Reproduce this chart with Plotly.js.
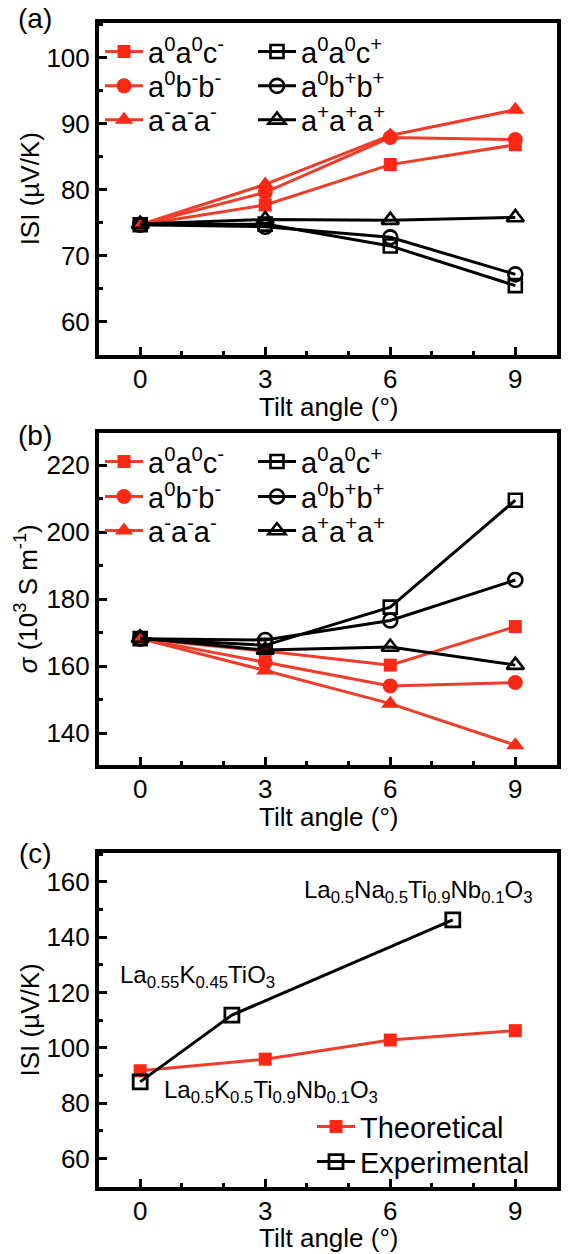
<!DOCTYPE html>
<html>
<head>
<meta charset="utf-8">
<script src="https://cdn.plot.ly/plotly-3.0.1.min.js"></script>
<style>html,body{margin:0;padding:0;background:#fff;}</style>
</head>
<body>
<div id="chart" style="width:568px;height:1254px;"></div>
<script>
// ---------- data ----------
const tiltAngles = [0, 3, 6, 9];

// (a) |S| (µV/K)
const seebeck_a0a0cm = [74.7, 77.7, 83.8, 86.8];
const seebeck_a0bmbm = [74.7, 79.6, 87.9, 87.6];
const seebeck_amamam = [74.7, 80.8, 88.2, 92.1];
const seebeck_a0a0cp = [74.7, 74.8, 71.5, 65.5];
const seebeck_a0bpbp = [74.7, 74.4, 72.8, 67.2];
const seebeck_apapap = [74.8, 75.5, 75.4, 75.8];

// (b) sigma (10^3 S/m)
const sigma_a0a0cm = [168.2, 164.5, 160.3, 171.8];
const sigma_a0bmbm = [168.2, 161.2, 154.1, 155.1];
const sigma_amamam = [168.2, 158.7, 148.8, 136.4];
const sigma_a0a0cp = [168.2, 166.2, 177.6, 209.5];
const sigma_a0bpbp = [168.2, 167.8, 173.6, 185.7];
const sigma_apapap = [168.4, 164.8, 165.7, 160.3];

// (c) theoretical vs experimental
const theoAngles = [0, 3, 6, 9];
const theoSeebeck = [91.7, 95.9, 102.8, 106.2];
const expAngles = [0, 2.2, 7.5];
const expSeebeck = [87.7, 111.8, 146.2];

const seriesNames = [
  'a<sup>0</sup>a<sup>0</sup>c<sup>-</sup>',
  'a<sup>0</sup>b<sup>-</sup>b<sup>-</sup>',
  'a<sup>-</sup>a<sup>-</sup>a<sup>-</sup>',
  'a<sup>0</sup>a<sup>0</sup>c<sup>+</sup>',
  'a<sup>0</sup>b<sup>+</sup>b<sup>+</sup>',
  'a<sup>+</sup>a<sup>+</sup>a<sup>+</sup>'
];
const expLabels = [
  'La<sub>0.5</sub>K<sub>0.5</sub>Ti<sub>0.9</sub>Nb<sub>0.1</sub>O<sub>3</sub>',
  'La<sub>0.55</sub>K<sub>0.45</sub>TiO<sub>3</sub>',
  'La<sub>0.5</sub>Na<sub>0.5</sub>Ti<sub>0.9</sub>Nb<sub>0.1</sub>O<sub>3</sub>'
];
const xTitle = 'Tilt angle (°)';

// ---------- styles ----------
const FONT = 'Liberation Sans, Arial, Helvetica, sans-serif';
const RED_M = '#fa2814';
const RED_L = '#ee3d2a';
const BLK = '#000000';

function redTrace(y, name, sym, size, xa, ya, leg) {
  return {x: tiltAngles, y: y, name: name, type: 'scatter', mode: 'lines+markers',
    xaxis: xa, yaxis: ya, legend: leg,
    line: {color: RED_L, width: 3},
    marker: {symbol: sym, size: size, color: RED_M, line: {width: 0}}};
}
function blackTrace(y, name, sym, size, xa, ya, leg) {
  return {x: tiltAngles, y: y, name: name, type: 'scatter', mode: 'lines+markers',
    xaxis: xa, yaxis: ya, legend: leg,
    line: {color: BLK, width: 3},
    marker: {symbol: sym, size: size, color: BLK, line: {width: 2.6, color: BLK}}};
}

const traces = [
  // panel (a)
  redTrace(seebeck_a0a0cm, seriesNames[0], 'square', 13, 'x', 'y', 'legend'),
  redTrace(seebeck_a0bmbm, seriesNames[1], 'circle', 15, 'x', 'y', 'legend2'),
  redTrace(seebeck_amamam, seriesNames[2], 'triangle-up', 16, 'x', 'y', 'legend3'),
  blackTrace(seebeck_a0a0cp, seriesNames[3], 'square-open', 13, 'x', 'y', 'legend'),
  blackTrace(seebeck_a0bpbp, seriesNames[4], 'circle-open', 14, 'x', 'y', 'legend2'),
  blackTrace(seebeck_apapap, seriesNames[5], 'triangle-up-open', 15, 'x', 'y', 'legend3'),
  // panel (b)
  redTrace(sigma_a0a0cm, seriesNames[0], 'square', 13, 'x2', 'y2', 'legend4'),
  redTrace(sigma_a0bmbm, seriesNames[1], 'circle', 15, 'x2', 'y2', 'legend5'),
  redTrace(sigma_amamam, seriesNames[2], 'triangle-up', 16, 'x2', 'y2', 'legend6'),
  blackTrace(sigma_a0a0cp, seriesNames[3], 'square-open', 13, 'x2', 'y2', 'legend4'),
  blackTrace(sigma_a0bpbp, seriesNames[4], 'circle-open', 14, 'x2', 'y2', 'legend5'),
  blackTrace(sigma_apapap, seriesNames[5], 'triangle-up-open', 15, 'x2', 'y2', 'legend6'),
  // panel (c)
  {x: theoAngles, y: theoSeebeck, name: 'Theoretical', type: 'scatter', mode: 'lines+markers',
    xaxis: 'x3', yaxis: 'y3', legend: 'legend7',
    line: {color: RED_L, width: 3}, marker: {symbol: 'square', size: 13, color: RED_M}},
  {x: expAngles, y: expSeebeck, name: 'Experimental', type: 'scatter', mode: 'lines+markers',
    xaxis: 'x3', yaxis: 'y3', legend: 'legend8',
    line: {color: BLK, width: 3}, marker: {symbol: 'square-open', size: 14, color: BLK, line: {width: 2.8, color: BLK}}}
];

function xAxis(anchor) {
  return {anchor: anchor, domain: [98.5/568, 557/568], range: [-1, 10],
    tickmode: 'linear', tick0: 0, dtick: 3,
    ticks: 'inside', ticklen: 8, tickwidth: 3, tickcolor: BLK, ticklabelstandoff: -2,
    showline: true, linewidth: 3.5, linecolor: BLK, mirror: true,
    showgrid: false, zeroline: false,
    tickfont: {family: FONT, size: 26, color: BLK},
    minor: {tickmode: 'linear', tick0: 0, dtick: 1, ticks: 'inside', ticklen: 4, tickwidth: 3, tickcolor: BLK, showgrid: false}};
}
function yAxis(anchor, dom, range, dtick, mdtick, title, standoff) {
  return {anchor: anchor, domain: dom, range: range,
    tickmode: 'linear', tick0: 0, dtick: dtick,
    ticks: 'inside', ticklen: 8, tickwidth: 3, tickcolor: BLK,
    showline: true, linewidth: 3.5, linecolor: BLK, mirror: true,
    showgrid: false, zeroline: false,
    tickfont: {family: FONT, size: 26, color: BLK},
    minor: {tickmode: 'linear', tick0: 0, dtick: mdtick, ticks: 'inside', ticklen: 4, tickwidth: 3, tickcolor: BLK, showgrid: false},
    title: {text: title, font: {family: FONT, size: 26, color: BLK}, standoff: standoff}};
}
const H = 1254, W = 568;
const py = v => 1 - v / H;

function leg(yc, xleft, entry, fs) {
  return {orientation: 'h', x: xleft / W, xanchor: 'left', y: py(yc), yanchor: 'middle',
    bgcolor: 'rgba(0,0,0,0)', borderwidth: 0, entrywidth: entry, entrywidthmode: 'pixels',
    itemwidth: 38,
    font: {family: FONT, size: fs, color: BLK}, traceorder: 'normal'};
}

function xTitleAnn(yc) {
  return {xref: 'paper', yref: 'paper', x: 328 / W, y: py(yc), text: xTitle,
    showarrow: false, xanchor: 'center', yanchor: 'middle', font: {family: FONT, size: 26, color: BLK}};
}
function panelAnn(yc, t) {
  return {xref: 'paper', yref: 'paper', x: 35/W, y: py(yc), text: t, showarrow: false,
    xanchor: 'center', yanchor: 'middle', font: {family: FONT, size: 28, color: BLK}};
}

const layout = {
  width: W, height: H,
  margin: {l: 0, r: 0, t: 0, b: 0},
  paper_bgcolor: '#fff', plot_bgcolor: '#fff',
  showlegend: true,
  xaxis: xAxis('y'),
  yaxis: yAxis('x', [py(355), py(22.5)], [55, 105.3], 10, 5, 'ISI (µV/K)', 0),
  xaxis2: xAxis('y2'),
  yaxis2: yAxis('x2', [py(765), py(432.5)], [130.5, 229.7], 20, 10, '<i>σ</i> (10<sup>3</sup> S m<sup>-1</sup>)', 2),
  xaxis3: xAxis('y3'),
  yaxis3: yAxis('x3', [py(1187), py(852.7)], [49.7, 170.5], 20, 10, 'ISI (µV/K)', 0),
  legend: leg(51.7, 100, 100, 29),
  legend2: leg(86, 100, 100, 29),
  legend3: leg(120, 100, 100, 29),
  legend4: leg(461.7, 100, 100, 29),
  legend5: leg(496.7, 100, 100, 29),
  legend6: leg(530.7, 100, 100, 29),
  legend7: leg(1126.7, 312, 0, 29),
  legend8: leg(1161.7, 312, 0, 29),
  annotations: [
    panelAnn(19, '(a)'), panelAnn(435, '(b)'), panelAnn(853.5, '(c)'),
    xTitleAnn(407), xTitleAnn(817), xTitleAnn(1238),
    {xref: 'x3', yref: 'y3', x: 0.52, y: 84.1, text: expLabels[0], showarrow: false, xanchor: 'left', yanchor: 'middle', font: {family: FONT, size: 24, color: BLK}},
    {xref: 'x3', yref: 'y3', x: -0.54, y: 125.7, text: expLabels[1], showarrow: false, xanchor: 'left', yanchor: 'middle', font: {family: FONT, size: 24, color: BLK}},
    {xref: 'x3', yref: 'y3', x: 3.89, y: 156.4, text: expLabels[2], showarrow: false, xanchor: 'left', yanchor: 'middle', font: {family: FONT, size: 24, color: BLK}}
  ]
};

Plotly.newPlot('chart', traces, layout, {staticPlot: true, displayModeBar: false});
</script>
</body>
</html>
